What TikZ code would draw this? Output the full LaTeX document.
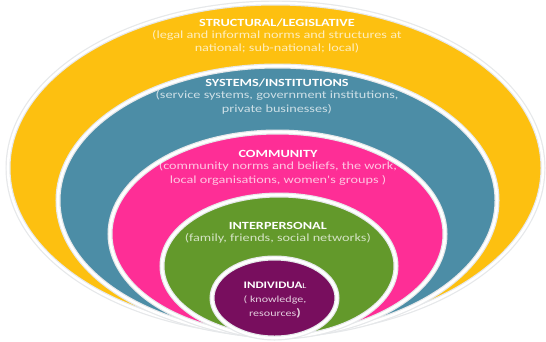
\documentclass[tikz,border=0pt]{standalone}
\usepackage{fontspec}
\newfontfamily\calib[FakeStretch=1.3]{Carlito}
\usetikzlibrary{shapes.geometric}
\definecolor{ylw}{HTML}{FDC010}
\definecolor{tealb}{HTML}{4C8DA6}
\definecolor{pnk}{HTML}{FE2E96}
\definecolor{grn}{HTML}{63992B}
\definecolor{prp}{HTML}{780E5E}
\definecolor{rim}{HTML}{E6E8EA}
\tikzset{
  layer/.style={ellipse, inner sep=0pt, outer sep=0pt, draw=rim, line width=1.2bp, double=white, double distance=2.6bp},
  ttl/.style={font=\calib\fontsize{11}{12}\selectfont\bfseries, text=white, inner sep=0pt},
  sub/.style={font=\calib\fontsize{11}{13.6}\selectfont, text=white, text opacity=0.72, inner sep=0pt, align=center},
}
\begin{document}
\begin{tikzpicture}[x=1bp,y=-1bp]
\useasboundingbox[fill=white] (0,0) rectangle (546,341);
\node[layer, fill=ylw, minimum width=535bp, minimum height=330bp] (structural) at (275.5,168) {};
\node[layer, fill=tealb, minimum width=439bp, minimum height=269bp] (systems) at (277.5,200.5) {};
\node[layer, fill=pnk, minimum width=335bp, minimum height=204bp] (community) at (277.5,234) {};
\node[layer, fill=grn, minimum width=234bp, minimum height=142bp] (interpersonal) at (279,266) {};
\node[layer, fill=prp, minimum width=125bp, minimum height=80bp] (individual) at (274.5,298) {};

\node[ttl] (t1) at (277,23) {STRUCTURAL/LEGISLATIVE};
\node[sub, anchor=north] (s1) at (277,30) {(legal and informal norms and structures at\\national; sub-national; local)};

\node[ttl] (t2) at (277,83) {SYSTEMS/INSTITUTIONS};
\node[sub, anchor=north] (s2) at (277,90.5) {(service systems, government institutions,\\private businesses)};

\node[ttl] (t3) at (278,154) {COMMUNITY};
\node[sub, anchor=north] (s3) at (278,161.5) {(community norms and beliefs, the work,\\local organisations, women's groups )};

\node[ttl] (t4) at (277.8,226) {INTERPERSONAL};
\node[sub, anchor=north] (s4) at (277.8,233) {(family, friends, social networks)};

\node[ttl, font=\calib\fontsize{10}{11}\selectfont\bfseries] (t5) at (275,285) {INDIVIDUA{\mdseries\fontsize{7.5}{8}\selectfont L}};
\node[sub, anchor=north, font=\calib\fontsize{9.3}{14}\selectfont, text opacity=0.8] (s5) at (275,296) {( knowledge,\\resources{\bfseries\fontsize{11}{14}\selectfont\color{white})}};
\end{tikzpicture}
\end{document}
